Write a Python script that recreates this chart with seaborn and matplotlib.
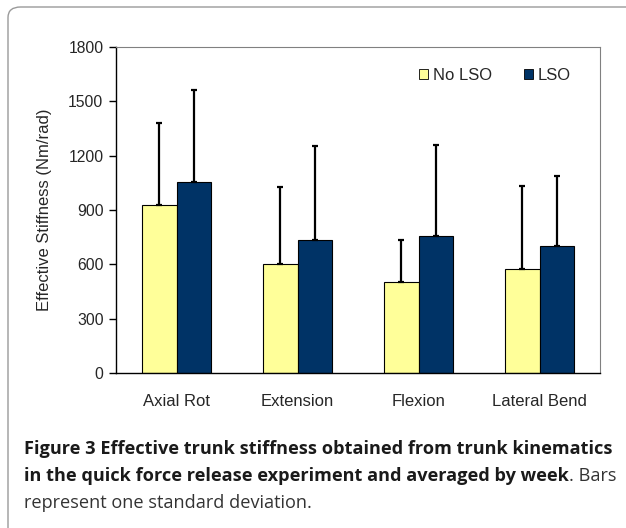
import numpy as np
import pandas as pd
import matplotlib
matplotlib.use("Agg")
import matplotlib.pyplot as plt
from matplotlib.patches import FancyBboxPatch
import seaborn as sns

# values
movements = ["Axial Rot", "Extension", "Flexion", "Lateral Bend"]
no_lso_mean = [928, 604, 501, 576]
no_lso_sd = [451, 421, 233, 458]
lso_mean = [1053, 734, 756, 701]
lso_sd = [510, 518, 503, 385]
groups = ["No LSO", "LSO"]
yticks = [0, 300, 600, 900, 1200, 1500, 1800]

df = pd.DataFrame({
    "Movement": movements * 2,
    "Group": [groups[0]] * 4 + [groups[1]] * 4,
    "Stiffness": no_lso_mean + lso_mean,
})
sds = {groups[0]: no_lso_sd, groups[1]: lso_sd}

sns.set_style("white")
plt.rcParams["font.family"] = ["Liberation Sans", "DejaVu Sans"]

fig = plt.figure(figsize=(6.26, 5.28), dpi=100)
ax = fig.add_axes([0.1853, 0.2936, 0.7732, 0.6174])

palette = {"No LSO": "#FFFF99", "LSO": "#003366"}
sns.barplot(data=df, x="Movement", y="Stiffness", hue="Group", order=movements,
            hue_order=groups, palette=palette, width=0.57, gap=0,
            edgecolor="black", linewidth=0.8, saturation=1, ax=ax, errorbar=None)

# one-sided error bars on top of each bar
for cont, g in zip(ax.containers, groups):
    xs = [p.get_x() + p.get_width() / 2 for p in cont.patches]
    hs = [p.get_height() for p in cont.patches]
    ax.errorbar(xs, hs, yerr=[np.zeros(len(hs)), sds[g]], fmt="none",
                ecolor="black", elinewidth=1.6, capsize=2.5, capthick=1.6, zorder=3)

ax.set_xlim(-0.5, 3.5)
ax.set_ylim(0, 1800)
ax.set_yticks(yticks)
ax.set_yticklabels([str(v) for v in yticks], fontsize=11.3)
ax.set_xticks(range(4))
ax.set_xticklabels(movements, fontsize=12)
ax.set_xticks(np.arange(-0.5, 4, 1), minor=True)
ax.tick_params(axis="x", which="major", length=0, pad=15)
ax.tick_params(axis="x", which="minor", length=5, width=1, color="black", direction="out")
ax.tick_params(axis="y", length=5, width=1, color="black", direction="out", left=True, pad=4)
ax.set_xlabel("")
ax.set_ylabel("Effective Stiffness (Nm/rad)", fontsize=12, labelpad=12)

for side in ["left", "bottom"]:
    ax.spines[side].set_color("black")
    ax.spines[side].set_linewidth(1)
for side in ["top", "right"]:
    ax.spines[side].set_color("#808080")
    ax.spines[side].set_linewidth(0.8)

leg = ax.legend(loc="center right", bbox_to_anchor=(0.94, 0.914), ncol=2, frameon=False,
                fontsize=12, handlelength=0.55, handleheight=0.55, handletextpad=0.3,
                columnspacing=1.9, borderaxespad=0, borderpad=0)
for h in leg.legend_handles:
    h.set_edgecolor("black")
    h.set_linewidth(0.6)

# rounded frame around the figure
frame = FancyBboxPatch((8 / 626, -0.05), 1.1, 1 - 7 / 528 + 0.05,
                       boxstyle="round,pad=0,rounding_size=0.02",
                       transform=fig.transFigure, fill=False, edgecolor="#9a9a9a",
                       linewidth=1, clip_on=False)
fig.patches.append(frame)

cap_font = ["Open Sans", "DejaVu Sans"]
fs = 13.1
fig.text(24 / 626, 1 - 449 / 528, "Figure 3 Effective trunk stiffness obtained from trunk kinematics",
         fontsize=fs, fontweight="bold", family=cap_font, va="center", color="#1a1a1a")
t2 = fig.text(24 / 626, 1 - 476 / 528, "in the quick force release experiment and averaged by week",
              fontsize=fs, fontweight="bold", family=cap_font, va="center", color="#1a1a1a")
ax.annotate(". Bars", xy=(1, 0), xycoords=t2, va="bottom", ha="left",
            fontsize=fs, family=cap_font, color="#333333", annotation_clip=False)
fig.text(24 / 626, 1 - 503 / 528, "represent one standard deviation.",
         fontsize=fs, family=cap_font, va="center", color="#333333")

fig.savefig("out.png", dpi=100)
